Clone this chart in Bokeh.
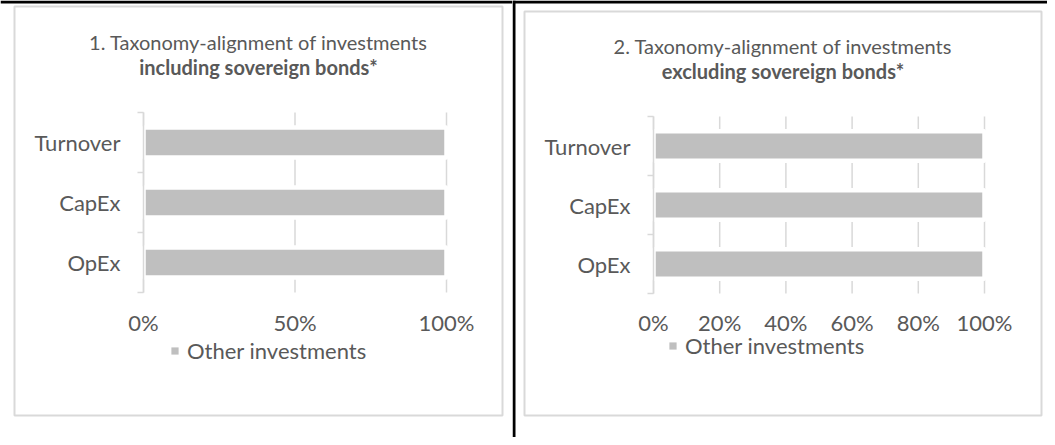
from bokeh.plotting import figure
from bokeh.layouts import row
from bokeh.models import (Range1d, FixedTicker, NumeralTickFormatter, BoxAnnotation,
                          Label, Legend, LegendItem, ColumnDataSource)
from bokeh.embed import file_html
from bokeh.resources import INLINE

# ---- data ----
categories = ["OpEx", "CapEx", "Turnover"]
other_incl = [1.0, 1.0, 1.0]
other_excl = [1.0, 1.0, 1.0]
ticks_incl = [0.0, 0.5, 1.0]
ticks_excl = [0.0, 0.2, 0.4, 0.6, 0.8, 1.0]
title1_line1 = "1. Taxonomy-alignment of investments"
title1_line2 = "including sovereign bonds*"
title2_line1 = "2. Taxonomy-alignment of investments"
title2_line2 = "excluding sovereign bonds*"
series_name = "Other investments"

FONT = "Lato"
TXT = "#595959"
BAR = "#bfbfbf"
GRID = "#d9d9d9"
H = 437


def make_panel(values, xticks, line1, line2, width, x0px, xpx, y0px, ypx,
               border, title_pos, legend_xy, y_standoff, x_standoff, black_v=False):
    n = len(categories)

    # pixel -> data helpers (frame == whole canvas)
    def dx(px):
        return (px - x0px) / xpx

    def dy(py):
        return (y0px - py) / ypx

    p = figure(width=width, height=H, x_range=Range1d(dx(0), dx(width)),
               y_range=Range1d(dy(H), dy(0)),
               output_backend="svg", toolbar_location=None, min_border=0)
    p.min_border_left = p.min_border_right = p.min_border_top = p.min_border_bottom = 0
    p.outline_line_color = None
    p.background_fill_color = "white"
    p.border_fill_color = "white"
    p.xgrid.visible = False
    p.ygrid.visible = False

    # vertical gridlines limited to the plot area
    p.segment(x0=xticks, y0=[0] * len(xticks), x1=xticks, y1=[n] * len(xticks),
              line_color=GRID, line_width=1.5)

    ys = [i + 0.5 for i in range(n)]
    src = ColumnDataSource(dict(y=ys, right=values, cat=categories))
    r = p.hbar(y="y", left=0, right="right", height=0.5, fill_color=BAR,
               line_color=None, source=src)
    p.hbar(y="y", left=0, right="right", height=0.5, fill_color=None,
           line_color="white", line_width=4.5, source=src)

    # y axis (category axis)
    yax = p.yaxis[0]
    yax.fixed_location = 0
    yax.bounds = (0, n)
    yax.ticker = FixedTicker(ticks=ys, minor_ticks=list(range(n + 1)))
    yax.major_label_overrides = {y: c for y, c in zip(ys, categories)}
    yax.major_tick_line_color = None
    yax.major_tick_out = 0
    yax.major_tick_in = 0
    yax.minor_tick_out = 6
    yax.minor_tick_in = 0
    yax.minor_tick_line_color = GRID
    yax.minor_tick_line_width = 1.5
    yax.axis_line_color = GRID
    yax.axis_line_width = 1.5
    yax.major_label_standoff = y_standoff
    yax.major_label_text_font = FONT
    yax.major_label_text_font_size = "22px"
    yax.major_label_text_color = TXT

    # x axis (value axis)
    xax = p.xaxis[0]
    xax.fixed_location = 0
    xax.bounds = (0, 1)
    xax.ticker = FixedTicker(ticks=xticks)
    xax.formatter = NumeralTickFormatter(format="0%")
    xax.axis_line_color = None
    xax.major_tick_line_color = None
    xax.minor_tick_line_color = None
    xax.major_tick_out = 0
    xax.major_label_standoff = x_standoff
    xax.major_label_text_font = FONT
    xax.major_label_text_font_size = "22px"
    xax.major_label_text_color = TXT

    # black rules of the surrounding table
    p.add_layout(BoxAnnotation(left=dx(0), right=dx(width), bottom=dy(3), top=dy(0),
                               fill_color="black", fill_alpha=1, line_color=None))
    if black_v:
        p.add_layout(BoxAnnotation(left=dx(0), right=dx(3), bottom=dy(H), top=dy(0),
                                   fill_color="black", fill_alpha=1, line_color=None))

    # panel border
    bl, bt, br, bb = border
    p.add_layout(BoxAnnotation(left=dx(bl), right=dx(br), bottom=dy(bb), top=dy(bt),
                               fill_alpha=0, line_color=GRID, line_alpha=1,
                               line_width=2, line_dash="solid"))

    tx, ty1, ty2 = title_pos
    p.add_layout(Label(x=dx(tx), y=dy(ty1), text=line1,
                       text_align="center", text_baseline="alphabetic",
                       text_font=FONT, text_font_size="20px", text_color=TXT))
    p.add_layout(Label(x=dx(tx), y=dy(ty2), text=line2,
                       text_align="center", text_baseline="alphabetic",
                       text_font=FONT, text_font_size="20px", text_font_style="bold",
                       text_color=TXT))

    leg = Legend(items=[LegendItem(label=series_name, renderers=[r])],
                 location=legend_xy, orientation="horizontal", padding=0, margin=0,
                 border_line_color=None, background_fill_alpha=0,
                 glyph_width=9, glyph_height=9, label_height=20, label_standoff=8,
                 label_text_font=FONT, label_text_font_size="22px",
                 label_text_color=TXT)
    p.add_layout(leg)
    return p


p1 = make_panel(other_incl, ticks_incl, title1_line1, title1_line2,
                width=512, x0px=143, xpx=303, y0px=292, ypx=60,
                border=(14, 6, 502, 415), title_pos=(258, 41, 66),
                legend_xy=(170, H - 364), y_standoff=17, x_standoff=16)
p2 = make_panel(other_excl, ticks_excl, title2_line1, title2_line2,
                width=535, x0px=141, xpx=331, y0px=293, ypx=59,
                border=(12, 11, 529, 415), title_pos=(270.5, 45, 70),
                legend_xy=(156, H - 359), y_standoff=17, x_standoff=15,
                black_v=True)

layout = row(p1, p2)
open("out.html", "w").write(file_html(layout, INLINE))
